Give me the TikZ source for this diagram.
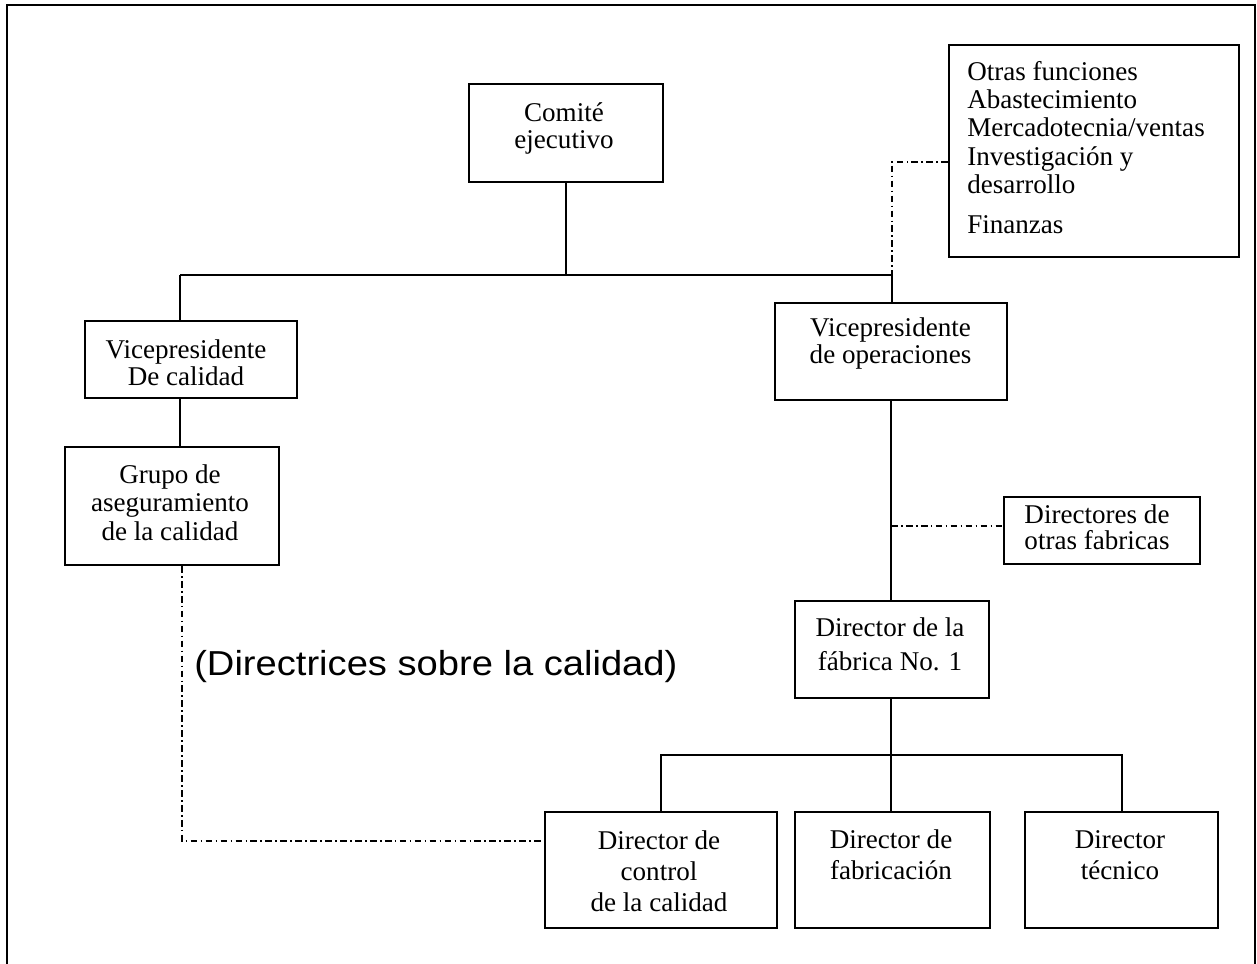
\documentclass[tikz,border=0pt]{standalone}
\usepackage{fontspec}
\setmainfont{Liberation Serif}
\newfontfamily\notefont[FakeStretch=1.1]{Liberation Sans}
\usetikzlibrary{fit}

\begin{document}
\begin{tikzpicture}[x=0.75pt,y=-0.75pt,
  box/.style={draw, line width=1.5pt, inner sep=0pt},
  txt/.style={align=center, inner sep=0pt, font=\fontsize{20.3}{20.5}\selectfont},
  link/.style={line width=1.5pt},
  dd/.style={line width=1.1pt, dash pattern=on 5pt off 2.5pt on 1.2pt off 2.5pt}]

\useasboundingbox (0,0) rectangle (1257,964);

% outer frame (open at the bottom)
\draw[line width=1.5pt] (7,964) -- (7,5) -- (1255,5) -- (1255,964);

% boxes
\node[box, fit={(469,84) (663,182)}] (comite) {};
\node[box, fit={(949,45) (1239,257)}] (otras) {};
\node[box, fit={(85,321) (297,398)}] (vpcal) {};
\node[box, fit={(775,303) (1007,400)}] (vpops) {};
\node[box, fit={(65,447) (279,565)}] (grupo) {};
\node[box, fit={(1004,497) (1200,564)}] (dirotras) {};
\node[box, fit={(795,601) (989,698)}] (fabrica) {};
\node[box, fit={(545,812) (777,928)}] (control) {};
\node[box, fit={(795,812) (990,928)}] (fabric) {};
\node[box, fit={(1025,812) (1218,928)}] (tecnico) {};

% box texts
\node[txt] (comite-t) at (564,128.5) {Comité\\ejecutivo};
\node[txt, align=left, anchor=west, font=\fontsize{20.3}{21.2}\selectfont] (otras-t) at (967,147.5)
  {Otras funciones\\Abastecimiento\\Mercadotecnia/ventas\\Investigación y\\desarrollo\\[9pt]Finanzas};
\node[txt] (vpcal-t) at (186,363) {Vicepresidente\\De calidad};
\node[txt] (vpops-t) at (890.5,343.5) {Vicepresidente\\de operaciones};
\node[txt, font=\fontsize{20.3}{21.2}\selectfont] (grupo-t) at (170,502.5) {Grupo de\\aseguramiento\\de la calidad};
\node[txt, font=\fontsize{20.3}{19.5}\selectfont] (dirotras-t) at (1097,527) {Directores de\\otras fabricas};
\node[txt, font=\fontsize{20.3}{25.5}\selectfont] (fabrica-t) at (890,644.5) {Director de la\\fábrica No. 1};
\node[txt, font=\fontsize{20.3}{23.25}\selectfont] (control-t) at (659,871) {Director de\\control\\de la calidad};
\node[txt, font=\fontsize{20.3}{23.25}\selectfont] (fabric-t) at (891,855) {Director de\\fabricación};
\node[txt, font=\fontsize{20.3}{23.25}\selectfont] (tecnico-t) at (1120,855) {Director\\técnico};

% note on the quality guidelines line
\node[inner sep=0pt, anchor=base west, font=\notefont\fontsize{26}{28}\selectfont] (nota) at (194,675)
  {(Directrices sobre la calidad)};

% junction points
\coordinate (hl) at (180,275);
\coordinate (hr) at (892,275);
\coordinate (od) at (892,162);
\coordinate (dj) at (891,526);
\coordinate (bm) at (891,755);
\coordinate (gc) at (182,841);

% solid reporting lines
\draw[link] (comite.south) -- (comite.south |- hl);
\draw[link] (hl) -- (hr);
\draw[link] (hl) -- (hl |- vpcal.north);
\draw[link] (hr) -- (hr |- vpops.north);
\draw[link] (vpcal.south -| hl) -- (grupo.north -| hl);
\draw[link] (vpops.south -| bm) -- (fabrica.north -| bm);
\draw[link] (fabrica.south -| bm) -- (bm);
\draw[link] (control.north) |- (bm) -| (tecnico.north);
\draw[link] (bm) -- (fabric.north -| bm);

% dash-dot functional lines
\draw[dd] (otras.west |- od) -- (od) -- (hr);
\draw[dd] (dj) -- (dj -| dirotras.west);
\draw[dd] (grupo.south -| gc) -- (gc) -- (gc -| control.west);

\end{tikzpicture}
\end{document}
